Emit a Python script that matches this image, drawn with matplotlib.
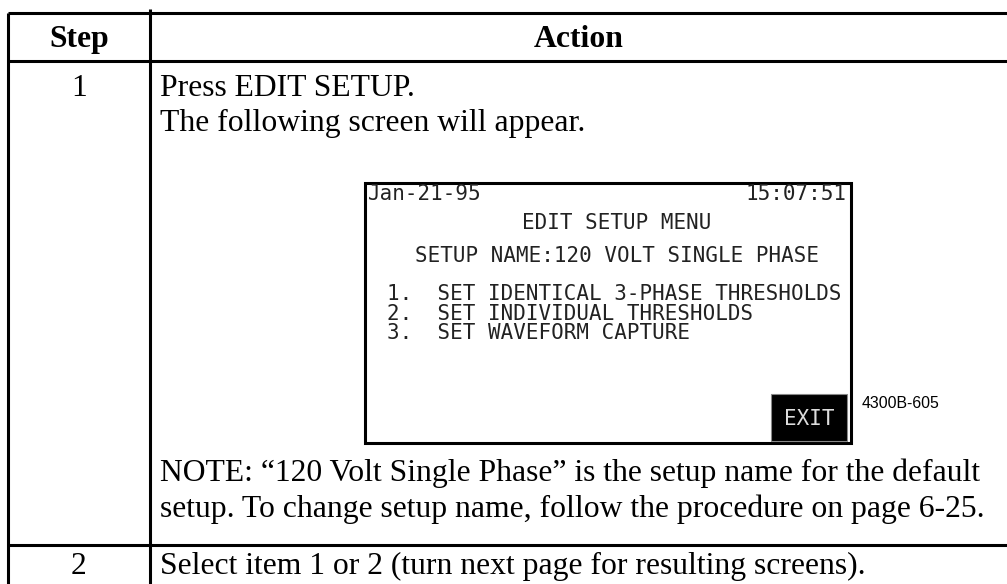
import matplotlib
matplotlib.use("Agg")
import matplotlib.pyplot as plt
from matplotlib.patches import Rectangle

# ---- content ----
headers = ["Step", "Action"]
step_labels = ["1", "2"]
step1_lines = ["Press EDIT SETUP.", "The following screen will appear."]
note_lines = ["NOTE: \u201c120 Volt Single Phase\u201d is the setup name for the default",
              "setup. To change setup name, follow the procedure on page 6-25."]
step2_text = "Select item 1 or 2 (turn next page for resulting screens)."
screen_date = "Jan-21-95"
screen_time = "15:07:51"
screen_title = "EDIT SETUP MENU"
screen_setup = "SETUP NAME:120 VOLT SINGLE PHASE"
screen_items = ["1.  SET IDENTICAL 3-PHASE THRESHOLDS",
                "2.  SET INDIVIDUAL THRESHOLDS",
                "3.  SET WAVEFORM CAPTURE"]
screen_button = "EXIT"
figure_id = "4300B-605"

W, H = 1007, 584
fig = plt.figure(figsize=(W / 100, H / 100), dpi=100)
ax = fig.add_axes([0, 0, 1, 1])
ax.set_xlim(0, W)
ax.set_ylim(H, 0)
ax.axis("off")

serif = "Liberation Serif"
mono = "DejaVu Sans Mono"
fs = 22.8
lw = 2.2

# table geometry
x_left, x_div, x_right = 8, 150, 1010
y_top, y_head, y_row2, y_bot = 13, 61, 545, 590

def hline(y, x0=x_left, x1=x_right):
    ax.plot([x0, x1], [y, y], color="black", lw=lw, solid_capstyle="butt")

def vline(x, y0, y1):
    ax.plot([x, x], [y0, y1], color="black", lw=lw, solid_capstyle="butt")

hline(y_top)
hline(y_head)
hline(y_row2)
vline(x_left, y_top, y_bot)
vline(x_div, 9, y_bot)

def serif_text(x, y, s, ha="left", **kw):
    ax.text(x, y, s, fontsize=fs, family=serif, ha=ha, va="baseline", **kw)

# headers
serif_text((x_left + x_div) / 2, 47, headers[0], ha="center", weight="bold")
serif_text((x_div + W) / 2, 47, headers[1], ha="center", weight="bold")

# step 1
serif_text((x_left + x_div) / 2, 96, step_labels[0], ha="center")
for i, line in enumerate(step1_lines):
    serif_text(160, 96 + i * 35.5, line)
for i, line in enumerate(note_lines):
    serif_text(160, 481 + i * 35.5, line)

# step 2
serif_text((x_left + x_div) / 2, 574, step_labels[1], ha="center")
serif_text(160, 574, step2_text)

# screen box
sx0, sy0, sx1, sy1 = 365, 183, 851, 443
ax.add_patch(Rectangle((sx0, sy0), sx1 - sx0, sy1 - sy0, fill=False,
                       edgecolor="black", lw=2.2))
sfs = 15.0
sc = "#222222"
ax.text(368, 194, screen_date, fontsize=sfs, family=mono, color=sc, ha="left", va="center")
ax.text(847, 194, screen_time, fontsize=sfs, family=mono, color=sc, ha="right", va="center")
ax.text(617, 223, screen_title, fontsize=sfs, family=mono, color=sc, ha="center", va="center")
ax.text(415, 256, screen_setup, fontsize=sfs, family=mono, color=sc, ha="left", va="center")
for i, line in enumerate(screen_items):
    ax.text(387, 294 + i * 19.5, line, fontsize=sfs, family=mono, color=sc,
            ha="left", va="center")

# EXIT button
bx0, by0, bx1, by1 = 771, 394, 847, 441
ax.add_patch(Rectangle((bx0, by0), bx1 - bx0, by1 - by0, facecolor="black",
                       edgecolor="#888888", lw=0.8))
ax.text((bx0 + bx1) / 2, 419, screen_button, fontsize=sfs, family=mono,
        color="#dddddd", ha="center", va="center")

ax.text(862, 403, figure_id, fontsize=11.4, family="Liberation Sans",
        ha="left", va="center")

fig.savefig("out.png", dpi=100)
